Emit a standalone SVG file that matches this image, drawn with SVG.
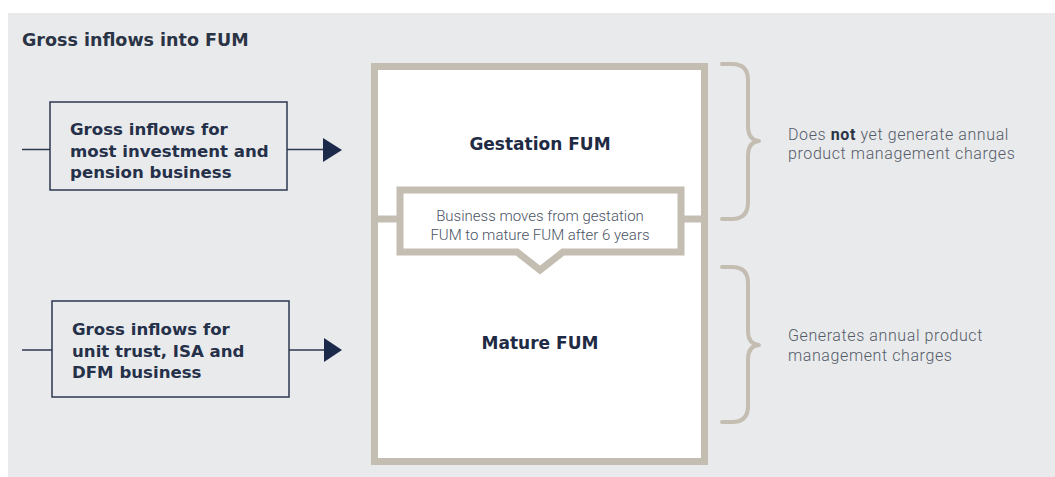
<svg xmlns="http://www.w3.org/2000/svg" width="1055" height="477" viewBox="0 0 1055 477">
  <style>
    .panel { fill: #e9eaec; }
    .frame { fill: #ffffff; stroke: #c4bdb2; stroke-width: 7; }
    .bar { fill: none; stroke: #c4bdb2; stroke-width: 7; }
    .brace { fill: none; stroke: #c4bdb2; stroke-width: 4; stroke-linecap: round; stroke-linejoin: round; }
    .inbox { fill: #e9eaec; stroke: #2c3850; stroke-width: 1.5; }
    .link { fill: none; stroke: #2c3850; stroke-width: 1.5; }
    .head { fill: #1b2a4a; }
    .title { font-family: "DejaVu Sans", "Liberation Sans", sans-serif; font-weight: 700; font-size: 17.5px; fill: #2b3445; }
    .label { font-family: "DejaVu Sans", "Liberation Sans", sans-serif; font-weight: 700; font-size: 16.6px; fill: #253049; }
    .stage { font-family: "DejaVu Sans", "Liberation Sans", sans-serif; font-weight: 700; font-size: 17px; fill: #1f2a44; text-anchor: middle; }
    .note { font-family: Roboto, "Liberation Sans", sans-serif; font-weight: 300; font-size: 15px; fill: #4a5264; text-anchor: middle; }
    .side { font-family: Roboto, "Liberation Sans", sans-serif; font-weight: 300; font-size: 16px; letter-spacing: 0.6px; fill: #545b68; }
    .side tspan.em { font-weight: 700; fill: #2b3445; }
  </style>

  <rect class="panel" x="8" y="13" width="1047" height="464"/>

  <text class="title" x="22" y="46">Gross inflows into FUM</text>

  <!-- FUM container -->
  <g id="fum">
    <rect class="frame" x="374.5" y="66.5" width="330" height="395"/>
    <text class="stage" x="540" y="150">Gestation FUM</text>
    <text class="stage" x="540" y="349">Mature FUM</text>
  </g>

  <!-- transfer callout between gestation and mature -->
  <g id="transfer">
    <line class="bar" x1="374.5" y1="219" x2="400" y2="219"/>
    <line class="bar" x1="681" y1="219" x2="704.5" y2="219"/>
    <path class="frame" d="M400,190 H681 V252 H563 L540,270 L517,252 H400 Z"/>
    <text class="note" x="540" y="220.5">Business moves from gestation</text>
    <text class="note" x="540" y="239.5">FUM to mature FUM after 6 years</text>
  </g>

  <g id="inflow-investment">
    <rect class="inbox" x="50" y="102" width="237" height="88"/>
    <text class="label" x="70" y="135">Gross inflows for</text>
    <text class="label" x="70" y="157">most investment and</text>
    <text class="label" x="70" y="178">pension business</text>
  </g>

  <g id="inflow-unit-trust">
    <rect class="inbox" x="52" y="301" width="237" height="96"/>
    <text class="label" x="72" y="335">Gross inflows for</text>
    <text class="label" x="72" y="357">unit trust, ISA and</text>
    <text class="label" x="72" y="378">DFM business</text>
  </g>

  <g id="connectors">
    <line class="link" x1="22" y1="149.5" x2="50" y2="149.5"/>
    <line class="link" x1="287" y1="149.5" x2="324" y2="149.5"/>
    <path class="head" d="M323,138 L342,150 L323,162 Z"/>
    <line class="link" x1="22" y1="350" x2="52" y2="350"/>
    <line class="link" x1="289" y1="350" x2="325" y2="350"/>
    <path class="head" d="M324,338 L342,350 L324,362 Z"/>
  </g>

  <g id="brace-gestation">
    <path class="brace" d="M722,64 H732 Q748,64 748,80 V126 Q748,140 759,141 Q748,142 748,156 V202 Q748,219 732,219 H722"/>
    <text class="side" x="788" y="140">Does <tspan class="em">not</tspan> yet generate annual</text>
    <text class="side" x="788" y="159">product management charges</text>
  </g>

  <g id="brace-mature">
    <path class="brace" d="M722,267 H732 Q748,267 748,283 V331 Q748,344 759,345 Q748,346 748,359 V406 Q748,422 732,422 H722"/>
    <text class="side" x="788" y="341">Generates annual product</text>
    <text class="side" x="788" y="361">management charges</text>
  </g>
</svg>
